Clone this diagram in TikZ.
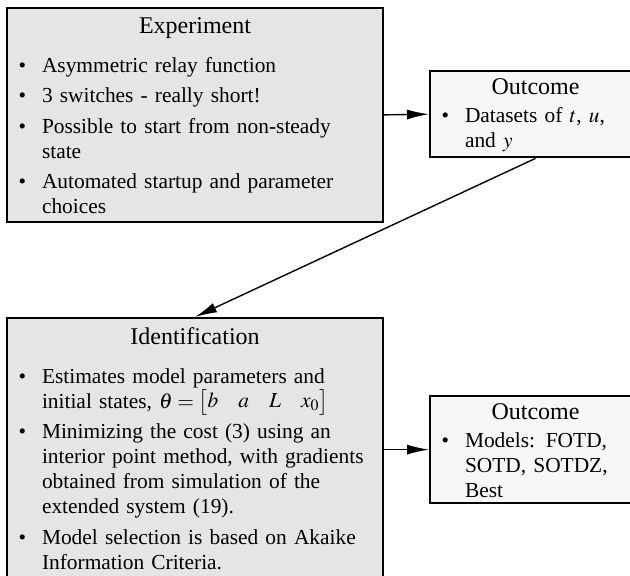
\documentclass[tikz,border=0pt]{standalone}
\usepackage{amsmath}
\usepackage{mathptmx}
\usepackage{fontspec}
\setmainfont{Liberation Serif}
\usetikzlibrary{arrows.meta}

% bullet list used inside the boxes
\newenvironment{boxlist}{%
  \begin{list}{\textbullet}{%
    \setlength{\leftmargin}{13.5pt}\setlength{\labelsep}{8pt}%
    \setlength{\labelwidth}{5.5pt}\setlength{\rightmargin}{0pt}%
    \setlength{\topsep}{0pt}\setlength{\partopsep}{0pt}%
    \setlength{\itemsep}{2.75pt}\setlength{\parsep}{0pt}}%
  \raggedright}{\end{list}}
% title line, with a strut of given height above the baseline
\newcommand{\boxtitle}[2][8.5pt]{{\centering\fontsize{12}{14}\selectfont\rule{0pt}{#1}#2\par}}

\tikzset{
  stagebox/.style={draw, line width=1pt, fill=black!10, anchor=north west,
    text width=180pt, inner xsep=4pt, inner ysep=4pt,
    font=\fontsize{10.7}{12.5}\selectfont},
  outbox/.style={stagebox, fill=black!3, text width=97.5pt, inner ysep=3pt},
  flow/.style={-{Latex[length=11pt,width=5pt]}, line width=0.7pt}
}

\begin{document}
\begin{tikzpicture}[x=0.5pt,y=-0.5pt]
  \useasboundingbox (0,0) rectangle (630,575);

  \node[stagebox] (exp) at (6,7) {%
    \boxtitle{Experiment}\vspace{7pt}
    \begin{boxlist}
      \item Asymmetric relay function
      \item 3 switches - really short!
      \item Possible to start from non-steady state
      \item Automated startup and parameter choices
    \end{boxlist}};

  \node[outbox] (outdata) at (429,70) {%
    \boxtitle{Outcome}\vspace{1.5pt}
    \begin{boxlist}
      \item Datasets of $t$, $u$, and $y$
    \end{boxlist}};

  \node[stagebox] (ident) at (6,317) {%
    \boxtitle[9pt]{Identification}\vspace{7pt}
    \begin{boxlist}
      \item Estimates model parameters and initial states,
        $\theta=\begin{bmatrix} b & a & L & x_0\end{bmatrix}$
      \item Minimizing the cost (3) using an interior point method, with
        gradients obtained from simulation of the extended system (19).
      \item Model selection is based on Akaike Information Criteria.
    \end{boxlist}
    \par\kern8pt};

  \node[outbox] (outmodel) at (429,395) {%
    \boxtitle{Outcome}\vspace{1.5pt}
    \begin{boxlist}
      \item Models: FOTD, SOTD, SOTDZ, Best
    \end{boxlist}};

  \draw[flow] (exp.east) -- (outdata.west);
  \draw[flow] (outdata.south) -- (ident.north);
  \draw[flow] (outmodel.west -| ident.east) -- (outmodel.west);
\end{tikzpicture}
\end{document}
